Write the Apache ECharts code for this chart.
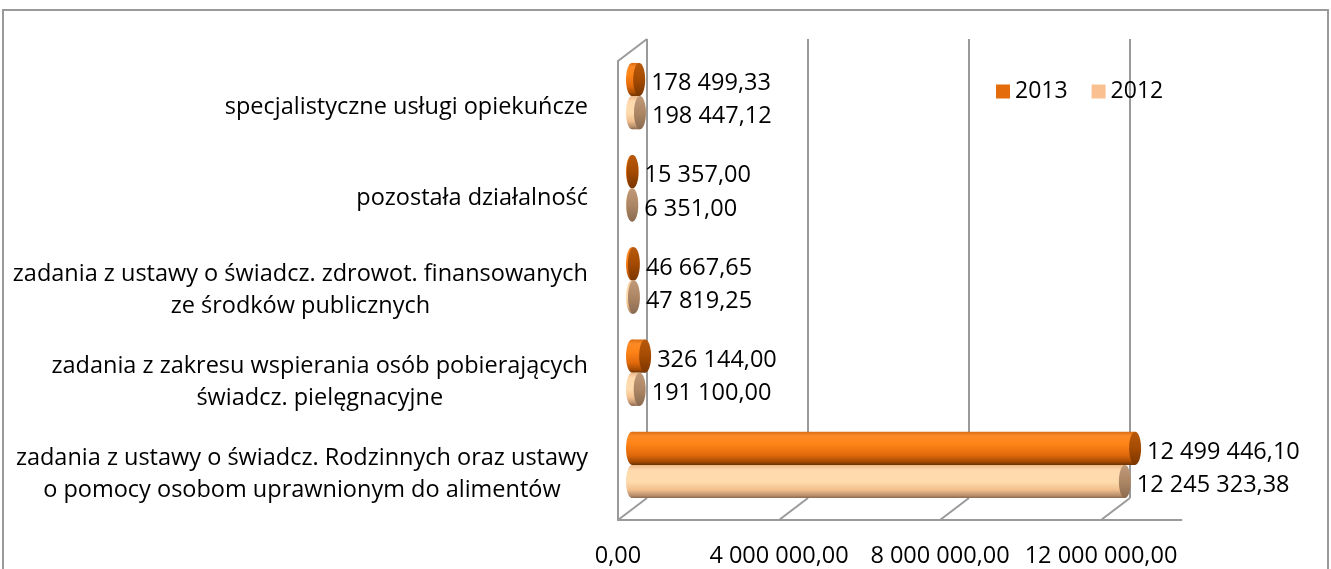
<!DOCTYPE html>
<html>
<head>
<meta charset="utf-8">
<script src="https://cdn.jsdelivr.net/npm/echarts@6/dist/echarts.min.js"></script>
<style>
  html, body { margin: 0; padding: 0; background: #fff; }
  #frame { position: absolute; left: 2px; top: 9px; width: 1323px; height: 600px; border: 2px solid #9a9a9a; }
  #chart { position: absolute; left: 0; top: 0; width: 1331px; height: 569px; }
</style>
</head>
<body>
<div id="frame"></div>
<div id="chart"></div>
<script>
// kategorie od góry do dołu
const categories = [
  'specjalistyczne usługi opiekuńcze',
  'pozostała działalność',
  'zadania z ustawy o świadcz. zdrowot. finansowanych\nze środków publicznych',
  'zadania z zakresu wspierania osób pobierających\nświadcz. pielęgnacyjne',
  'zadania z ustawy o świadcz. Rodzinnych oraz ustawy\no pomocy osobom uprawnionym do alimentów'
]
const values2013 = [178499.33, 15357.00, 46667.65, 326144.00, 12499446.10]
const values2012 = [198447.12, 6351.00, 47819.25, 191100.00, 12245323.38]
const axisTicks = [0, 4000000, 8000000, 12000000]

const FONT = '"Open Sans", "Noto Sans", sans-serif'
const FONT_SIZE = 23.5
const GRID_COLOR = '#9a9a9a'

function fmt(v) {
  const parts = v.toFixed(2).split('.')
  return parts[0].replace(/\B(?=(\d{3})+(?!\d))/g, ' ') + ',' + parts[1]
}

const palette = {
  '2013': {
    body: [[0, '#d96a12'], [0.12, '#fb8a26'], [0.35, '#ff8418'], [0.7, '#e26a0c'], [0.9, '#a84c04'], [1, '#6e3200']],
    cap: [[0, '#b85a0c'], [0.5, '#a44a02'], [1, '#7a3600']]
  },
  '2012': {
    body: [[0, '#eab888'], [0.15, '#ffd9ad'], [0.5, '#fedcae'], [0.75, '#f2c08e'], [0.92, '#b88e6c'], [1, '#8a6850']],
    cap: [[0, '#c09a78'], [0.5, '#ad8765'], [1, '#8a6a50']]
  }
}

function cylinder(name, side) {
  const colors = palette[name]
  return function (params, api) {
    const value = api.value(0)
    const center = api.coord([0, api.value(1)])
    const end = api.coord([value, api.value(1)])
    const band = api.size([0, 1])[1]
    const h = band * 0.36
    const cy = center[1] + side * h / 2
    const rx = 6
    const x0 = center[0]
    const x1 = end[0]
    const bodyFill = new echarts.graphic.LinearGradient(0, 0, 0, 1, colors.body.map(c => ({ offset: c[0], color: c[1] })))
    const capFill = new echarts.graphic.LinearGradient(0, 0, 0, 1, colors.cap.map(c => ({ offset: c[0], color: c[1] })))
    return {
      type: 'group',
      children: [
        { type: 'ellipse', shape: { cx: x0, cy: cy, rx: rx, ry: h / 2 }, style: { fill: bodyFill } },
        { type: 'rect', shape: { x: x0, y: cy - h / 2, width: Math.max(x1 - x0, 0), height: h }, style: { fill: bodyFill } },
        { type: 'ellipse', shape: { cx: x1, cy: cy, rx: rx, ry: h / 2 }, style: { fill: capFill } },
        {
          type: 'text',
          style: {
            text: fmt(value), x: x1 + rx + 6, y: cy + 4,
            fill: '#000', fontSize: FONT_SIZE, fontFamily: FONT,
            align: 'left', verticalAlign: 'middle'
          }
        }
      ]
    }
  }
}

// przekątne podłogi i lewej ściany (pseudo 3D)
function floorLines(params, api) {
  const cs = params.coordSys
  const x = api.coord([api.value(0), 0])[0]
  const yb = cs.y + cs.height
  const children = [
    { type: 'line', shape: { x1: x, y1: yb, x2: x + 29, y2: yb - 22 }, style: { stroke: GRID_COLOR, lineWidth: 2 } }
  ]
  if (params.dataIndex === 0) {
    children.push({ type: 'line', shape: { x1: x, y1: cs.y, x2: x + 29, y2: cs.y - 22 }, style: { stroke: GRID_COLOR, lineWidth: 2 } })
  }
  return { type: 'group', children: children }
}

const chart = echarts.init(document.getElementById('chart'))

chart.setOption({
  animation: false,
  textStyle: { fontFamily: FONT },
  legend: {
    data: ['2013', '2012'],
    left: 991,
    top: 75,
    icon: 'rect',
    itemWidth: 14,
    itemHeight: 14,
    itemGap: 24,
    textStyle: { fontSize: 23, color: '#000', fontFamily: FONT }
  },
  grid: [
    { left: 647, top: 39, width: 483, height: 459 },   // tylna ściana
    { left: 632, top: 50, width: 483, height: 461 },   // walce
    { left: 618, top: 61, width: 563.5, height: 459 }  // przód
  ],
  xAxis: [
    {
      gridIndex: 0, type: 'value', min: 0, max: 12000000, interval: 4000000,
      axisLine: { show: false }, axisTick: { show: false }, axisLabel: { show: false },
      splitLine: { show: true, lineStyle: { color: GRID_COLOR, width: 2 } }
    },
    {
      gridIndex: 1, type: 'value', min: 0, max: 12000000, show: false
    },
    {
      gridIndex: 2, type: 'value', min: 0, max: 14000000, interval: 4000000,
      axisLine: { show: true, lineStyle: { color: GRID_COLOR, width: 2 } },
      axisTick: { show: false },
      splitLine: { show: false },
      axisLabel: {
        margin: 24, fontSize: FONT_SIZE, color: '#000', fontFamily: FONT,
        formatter: v => axisTicks.indexOf(v) >= 0 ? fmt(v) : ''
      }
    }
  ],
  yAxis: [
    { gridIndex: 0, type: 'value', show: false },
    { gridIndex: 1, type: 'category', data: categories, inverse: true, show: false },
    {
      gridIndex: 2, type: 'category', data: categories, inverse: true,
      axisLine: { show: true, lineStyle: { color: GRID_COLOR, width: 2 } },
      axisTick: { show: false },
      axisLabel: {
        margin: 30,
        formatter: v => v.split('\n').map(s => '{c|' + s + '}').join('\n'),
        rich: {
          c: { align: 'center', fontSize: FONT_SIZE, lineHeight: 32, color: '#000', fontFamily: FONT }
        }
      }
    }
  ],
  series: [
    {
      name: 'floor', type: 'custom', xAxisIndex: 2, yAxisIndex: 2,
      renderItem: floorLines, data: axisTicks.map(t => [t, 0]), silent: true
    },
    {
      name: '2013', type: 'custom', xAxisIndex: 1, yAxisIndex: 1,
      itemStyle: { color: '#e46c0a' },
      renderItem: cylinder('2013', -1),
      encode: { x: 0, y: 1 },
      data: values2013.map((v, i) => [v, i])
    },
    {
      name: '2012', type: 'custom', xAxisIndex: 1, yAxisIndex: 1,
      itemStyle: { color: '#fac090' },
      renderItem: cylinder('2012', 1),
      encode: { x: 0, y: 1 },
      data: values2012.map((v, i) => [v, i])
    }
  ]
})
</script>
</body>
</html>
